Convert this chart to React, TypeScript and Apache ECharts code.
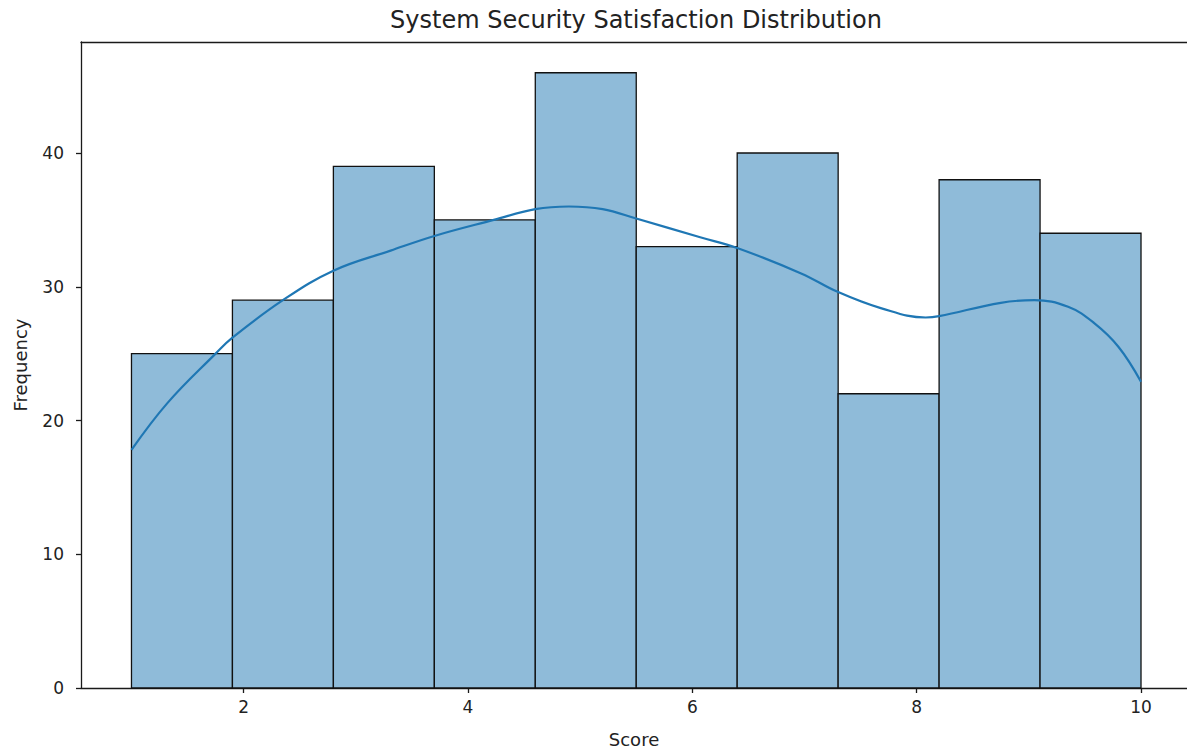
import React, { useEffect, useRef } from "react";
import * as echarts from "echarts";

const title = "System Security Satisfaction Distribution";
const xLabel = "Score";
const yLabel = "Frequency";

// histogram bins (start of each bin), bin width and counts
const binStarts = [1.0, 1.9, 2.8, 3.7, 4.6, 5.5, 6.4, 7.3, 8.2, 9.1];
const binWidth = 0.9;
const counts = [25, 29, 39, 35, 46, 33, 40, 22, 38, 34];

// KDE curve points
const kdeX = [1.0, 1.32, 1.75, 1.9, 2.35, 2.8, 3.31, 3.7, 4.23, 4.6, 4.9, 5.2, 5.5, 6.07, 6.4, 6.97, 7.3, 7.68, 8.08, 8.2, 8.75, 9.05, 9.35, 9.58, 9.8, 10.0];
const kdeY = [17.8, 21.3, 25.0, 26.2, 29.0, 31.2, 32.7, 33.8, 35.0, 35.8, 36.0, 35.8, 35.1, 33.7, 32.9, 31.0, 29.6, 28.4, 27.7, 27.8, 28.8, 29.0, 28.5, 27.3, 25.5, 22.9];

const xTicks = [2, 4, 6, 8, 10];
const yTicks = [0, 10, 20, 30, 40];

const FONT = "DejaVu Sans";
const INK = "#1a1a1a";

export default function App() {
  const ref = useRef<HTMLDivElement>(null);
  useEffect(() => {
    if (!ref.current) return;
    const chart = echarts.init(ref.current, undefined, { renderer: "svg" });
    const barData = binStarts.map((s, i) => [s, s + binWidth, counts[i]]);
    const lineData = kdeX.map((x, i) => [x, kdeY[i]]);
    chart.setOption({
      animation: false,
      backgroundColor: "#ffffff",
      grid: { left: 81, top: 42, right: 0, bottom: 64 },
      graphic: [
        {
          type: "text",
          x: 636,
          y: 20,
          style: {
            text: title,
            fontFamily: FONT,
            fontSize: 24,
            fill: "#222",
            textAlign: "center",
            textVerticalAlign: "middle",
          },
        },
      ],
      xAxis: [
        {
          type: "value",
          position: "bottom",
          min: 0.55,
          max: 10.41,
          name: xLabel,
          nameLocation: "middle",
          nameGap: 42,
          nameTextStyle: { fontFamily: FONT, fontSize: 18, color: "#222" },
          axisLine: { show: true, onZero: false, lineStyle: { color: INK, width: 1.3 } },
          axisTick: { show: true, length: 5, customValues: xTicks, lineStyle: { color: INK, width: 1.3 } },
          axisLabel: { customValues: xTicks, fontFamily: FONT, fontSize: 17, color: "#222", margin: 10 },
          splitLine: { show: false },
        },
        {
          type: "value",
          position: "top",
          min: 0.55,
          max: 10.41,
          axisLine: { show: true, onZero: false, lineStyle: { color: INK, width: 1.3 } },
          axisTick: { show: false },
          axisLabel: { show: false },
          splitLine: { show: false },
        },
      ],
      yAxis: {
        type: "value",
        min: 0,
        max: 48.3,
        name: yLabel,
        nameLocation: "middle",
        nameGap: 52,
        nameTextStyle: { fontFamily: FONT, fontSize: 18, color: "#222" },
        axisLine: { show: true, lineStyle: { color: INK, width: 1.3 } },
        axisTick: { show: true, length: 5, customValues: yTicks, lineStyle: { color: INK, width: 1.3 } },
        axisLabel: { customValues: yTicks, fontFamily: FONT, fontSize: 17, color: "#222", margin: 17 },
        splitLine: { show: false },
      },
      series: [
        {
          type: "custom",
          xAxisIndex: 0,
          data: barData,
          encode: { x: [0, 1], y: 2 },
          renderItem: (params: any, api: any) => {
            const p0 = api.coord([api.value(0), api.value(2)]);
            const p1 = api.coord([api.value(1), 0]);
            return {
              type: "rect",
              shape: { x: p0[0], y: p0[1], width: p1[0] - p0[0], height: p1[1] - p0[1] },
              style: { fill: "#8fbbd9", stroke: "#111", lineWidth: 1.3 },
            };
          },
          z: 2,
        },
        {
          type: "line",
          xAxisIndex: 0,
          data: lineData,
          smooth: 0.4,
          showSymbol: false,
          lineStyle: { color: "#1f77b4", width: 2.2 },
          z: 3,
        },
      ],
    });
    return () => chart.dispose();
  }, []);
  return (
    <div
      ref={ref}
      style={{ position: "fixed", left: 0, top: 0, width: 1187, height: 753 }}
    />
  );
}
